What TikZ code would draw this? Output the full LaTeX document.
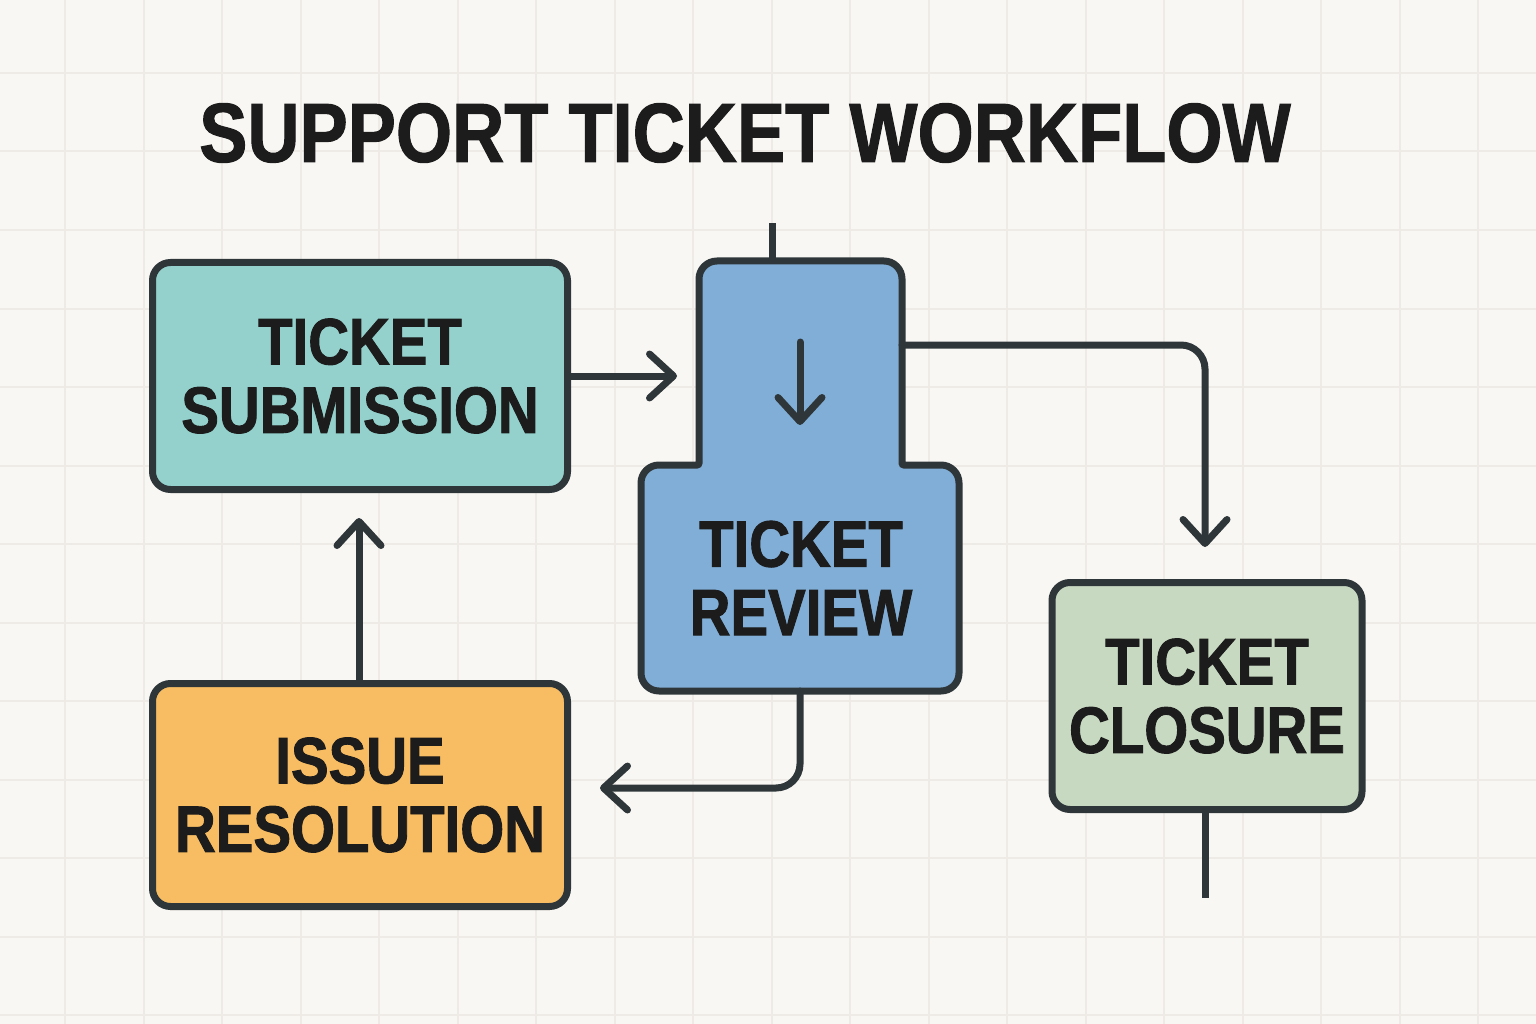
\documentclass[tikz,border=0pt]{standalone}
\usepackage{fontspec}
\newfontfamily\titlefont[FakeStretch=0.86,FakeBold=1.2]{Liberation Sans Bold}
\newfontfamily\boxfont[FakeStretch=0.86,FakeBold=1.4]{Liberation Sans Bold}
\usetikzlibrary{arrows.meta}
\definecolor{bg}{HTML}{F9F7F3}
\definecolor{gridc}{HTML}{EEEBE6}
\definecolor{stroke}{HTML}{2E3639}
\definecolor{ink}{HTML}{1C1C1C}
\definecolor{teal}{HTML}{94D1CC}
\definecolor{blue}{HTML}{80AED6}
\definecolor{green}{HTML}{C8D9C2}
\definecolor{orange}{HTML}{F8BD63}
\tikzset{
  box/.style={draw=stroke, line width=7pt, rounded corners=18pt, text=ink, align=center,
    font={\boxfont\fontsize{65.6}{68.5}\selectfont}, inner sep=0pt},
  arr/.style={draw=stroke, line width=7pt, line cap=round,
    -{Straight Barb[length=24pt,width=44pt,round]}},
  stub/.style={draw=stroke, line width=7pt},
}
\begin{document}
\begin{tikzpicture}[x=1pt,y=-1pt]
  \fill[bg] (0,0) rectangle (1536,1024);
  \useasboundingbox (0,0) rectangle (1536,1024);
  \foreach \i in {0,...,18} {
    \draw[gridc, line width=2pt] ({65+78.5*\i},0) -- ({65+78.5*\i},1024);
  }
  \foreach \j in {0,...,12} {
    \draw[gridc, line width=2pt] (0,{73+78.5*\j}) -- (1536,{73+78.5*\j});
  }
  % title
  \node[text=ink, font={\titlefont\fontsize{84}{90}\selectfont}, inner sep=0pt] (title) at (745,133) {SUPPORT TICKET WORKFLOW};

  % boxes
  \node[box, fill=teal, minimum width=415pt, minimum height=227pt] (sub) at (360,376) {TICKET\\SUBMISSION};
  \node[box, fill=orange, minimum width=415pt, minimum height=223pt] (res) at (360,795) {ISSUE\\RESOLUTION};
  \node[box, fill=green, minimum width=310pt, minimum height=227pt] (clo) at (1207,696) {TICKET\\CLOSURE};

  % review composite shape
  \draw[draw=stroke, fill=blue, line width=7pt]
    (800,261) [rounded corners=18pt] -- (902,261) [rounded corners=2pt] -- (902,465)
    [rounded corners=18pt] -- (959,465) -- (959,691) -- (641,691) -- (641,465)
    [rounded corners=2pt] -- (699,465) [rounded corners=18pt] -- (699,261) -- cycle;
  \node[text=ink, align=center, font={\boxfont\fontsize{65.6}{68.5}\selectfont}, inner sep=0pt] (rev) at (801,578) {TICKET\\REVIEW};

  \coordinate (revtop) at (772,261);
  \coordinate (topend) at (772,223);
  \coordinate (revin) at (677,376);
  \coordinate (innA) at (800,342);
  \coordinate (innB) at (800,425);
  \coordinate (revR) at (902,345);
  \coordinate (cloin) at (1205,547);
  \coordinate (revB) at (800,691);
  \coordinate (resin) at (600,788);
  \coordinate (subin) at (359,518);
  \coordinate (cloend) at (1205,898);

  % connectors
  \draw[arr] (sub.east |- revin) -- (revin);
  \draw[arr] (innA) -- (innB);
  \draw[stub] (revtop) -- (topend);
  \draw[arr, rounded corners=24pt] (revR) -| (cloin);
  \draw[arr, rounded corners=24pt] (revB) |- (resin);
  \draw[arr] (res.north -| subin) -- (subin);
  \draw[stub] (clo.south -| cloend) -- (cloend);
\end{tikzpicture}
\end{document}
